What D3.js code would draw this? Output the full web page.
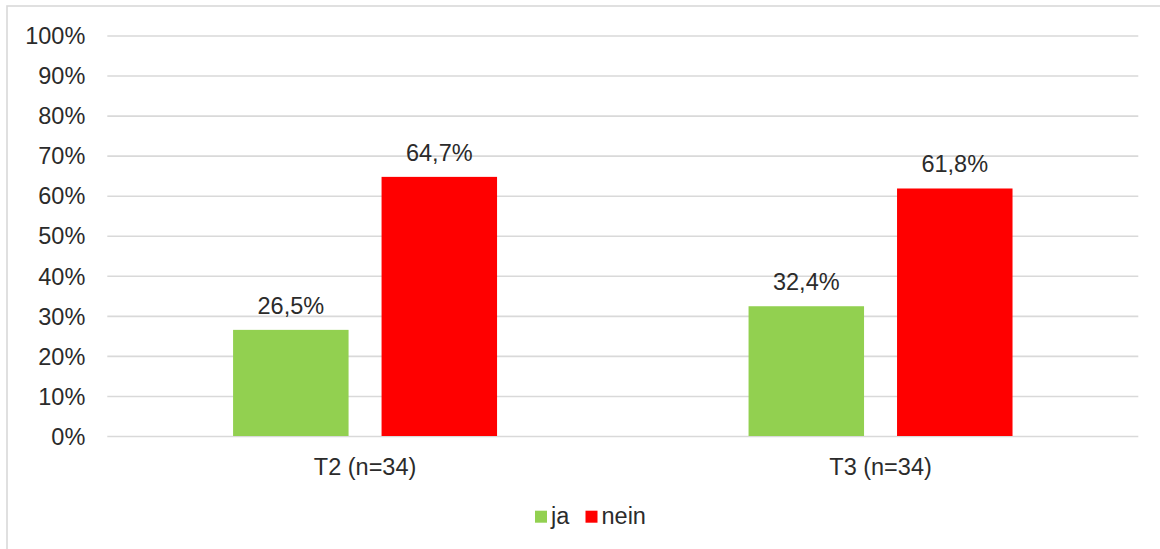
<!DOCTYPE html>
<html>
<head>
<meta charset="utf-8">
<script src="https://cdn.jsdelivr.net/npm/d3@7"></script>
<style>
  html, body { margin: 0; padding: 0; background: #fff; }
  svg { display: block; font-family: "Liberation Sans", Arial, sans-serif; }
</style>
</head>
<body>
<svg id="chart" width="1160" height="549"></svg>
<script>
const categories = ["T2 (n=34)", "T3 (n=34)"];
const seriesNames = ["ja", "nein"];
const jaValues = [26.5, 32.4];
const neinValues = [64.7, 61.8];
const tickValues = [0, 10, 20, 30, 40, 50, 60, 70, 80, 90, 100];
const seriesColors = ["#92d050", "#ff0000"];

const svg = d3.select("#chart");
const plot = { left: 107.3, right: 1138.3, top: 35.5, bottom: 436 };
const fontSize = 23.5;
const textColor = "#2b2b2b";
const gridColor = "#d9d9d9";

// frame
svg.append("rect")
  .attr("x", 7).attr("y", 6)
  .attr("width", 1300).attr("height", 700)
  .attr("fill", "none").attr("stroke", gridColor).attr("stroke-width", 1.6);

const y = d3.scaleLinear().domain([0, 100]).range([plot.bottom, plot.top]);
const x0 = d3.scaleBand().domain(categories)
  .range([plot.left, plot.right])
  .paddingInner(0.4879).paddingOuter(0.244);
const x1 = d3.scaleBand().domain(seriesNames)
  .range([0, x0.bandwidth()])
  .paddingInner(0.2222).paddingOuter(0);

// gridlines + y labels
const yAxis = d3.axisLeft(y).tickValues(tickValues)
  .tickSize(-(plot.right - plot.left))
  .tickFormat(d => d + "%");
const gy = svg.append("g")
  .attr("transform", `translate(${plot.left},0)`)
  .call(yAxis);
gy.select(".domain").remove();
gy.selectAll(".tick line").attr("stroke", gridColor).attr("stroke-width", 1.6);
gy.selectAll(".tick text")
  .attr("x", -22)
  .attr("dy", "0.35em")
  .attr("fill", textColor)
  .style("font-size", fontSize + "px")
  .style("font-family", '"Liberation Sans", Arial, sans-serif');

// x axis labels
const xAxis = d3.axisBottom(x0).tickSize(0).tickPadding(0);
const gx = svg.append("g")
  .attr("transform", `translate(0,${plot.bottom})`)
  .call(xAxis);
gx.select(".domain").remove();
gx.selectAll(".tick text")
  .attr("y", 38.5)
  .attr("dy", 0)
  .attr("fill", textColor)
  .style("font-size", fontSize + "px")
  .style("font-family", '"Liberation Sans", Arial, sans-serif');

// bars
const data = categories.map((c, i) => ({
  cat: c,
  vals: [
    { s: seriesNames[0], v: jaValues[i], color: seriesColors[0] },
    { s: seriesNames[1], v: neinValues[i], color: seriesColors[1] }
  ]
}));

const groups = svg.append("g").selectAll("g")
  .data(data).join("g")
  .attr("transform", d => `translate(${x0(d.cat)},0)`);

groups.selectAll("rect")
  .data(d => d.vals).join("rect")
  .attr("x", d => x1(d.s))
  .attr("y", d => y(d.v))
  .attr("width", x1.bandwidth())
  .attr("height", d => y(0) - y(d.v))
  .attr("fill", d => d.color);

const fmt = v => v.toFixed(1).replace(".", ",") + "%";
groups.selectAll("text.lbl")
  .data(d => d.vals).join("text")
  .attr("class", "lbl")
  .attr("x", d => x1(d.s) + x1.bandwidth() / 2)
  .attr("y", d => y(d.v) - 16)
  .attr("text-anchor", "middle")
  .attr("fill", textColor)
  .style("font-size", fontSize + "px")
  .text(d => fmt(d.v));

// legend
const legend = svg.append("g");
const legendItems = [
  { name: seriesNames[0], color: seriesColors[0], x: 535 },
  { name: seriesNames[1], color: seriesColors[1], x: 585.5 }
];
const li = legend.selectAll("g").data(legendItems).join("g")
  .attr("transform", d => `translate(${d.x},0)`);
li.append("rect")
  .attr("x", 0).attr("y", 510.7)
  .attr("width", 12).attr("height", 12)
  .attr("fill", d => d.color);
li.append("text")
  .attr("x", 16).attr("y", 523.5)
  .attr("fill", textColor)
  .style("font-size", fontSize + "px")
  .text(d => d.name);
</script>
</body>
</html>
